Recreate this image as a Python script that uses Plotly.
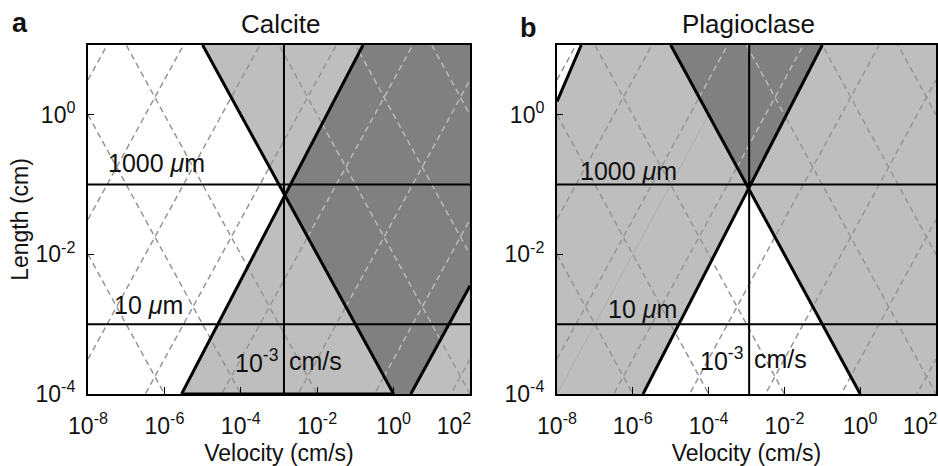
import plotly.graph_objects as go

# ---------------- data (log10 units) ----------------
X_RANGE = [-8, 2]          # log10 velocity (cm/s)
Y_RANGE = [-4, 1]          # log10 length (cm)
X_TICKS = [-8, -6, -4, -2, 0, 2]
Y_TICKS = [-4, -2, 0]

# thick boundary lines, endpoints as (log10 v, log10 L)
a_down = [(-5.0, 1.0), (0.0, -4.0)]
a_up = [(-5.55, -4.0), (-0.8, 1.0)]
a_edge = [(0.45, -4.0), (2.0, -2.45)]
b_down = [(-5.0, 1.0), (0.0, -4.0)]
b_up = [(-5.73, -4.0), (-1.0, 1.0)]
b_corner = [(-8.0, 0.19), (-7.36, 1.0)]

grain_sizes = [-1, -3]                 # log10 cm : 1000 um, 10 um
grain_labels = ["1000 <i>μ</i>m", "10 <i>μ</i>m"]
vel_line = {"a": -2.87, "b": -2.93}    # the "10^-3 cm/s" line

dash_sums = [-10, -8, -6, -2, 0, 2]                        # log L + log v
dash_diffs = [-5.5, -3.5, -1.5, 0.5, 2.5, 4.5, 6.5, 8.5]   # log L - log v
thin_diffs_b = [4.0]

LIGHT = "#bebebe"
DARK = "#808080"
DASH_GRAY = "#969696"
DASH_LIGHT = "#b9b9b9"
FONT = "Liberation Sans, Arial, sans-serif"


def intersect(l1, l2):
    (x1, y1), (x2, y2) = l1
    (x3, y3), (x4, y4) = l2
    d = (x1 - x2) * (y3 - y4) - (y1 - y2) * (x3 - x4)
    t = ((x1 - x3) * (y3 - y4) - (y1 - y3) * (x3 - x4)) / d
    return (x1 + t * (x2 - x1), y1 + t * (y2 - y1))


def clip(p0, p1, poly):
    cx = sum(p[0] for p in poly) / len(poly)
    cy = sum(p[1] for p in poly) / len(poly)
    t0, t1 = 0.0, 1.0
    dx, dy = p1[0] - p0[0], p1[1] - p0[1]
    for i in range(len(poly)):
        a = poly[i]
        b = poly[(i + 1) % len(poly)]
        n = (-(b[1] - a[1]), b[0] - a[0])
        if n[0] * (cx - a[0]) + n[1] * (cy - a[1]) < 0:
            n = (-n[0], -n[1])
        num = n[0] * (p0[0] - a[0]) + n[1] * (p0[1] - a[1])
        den = n[0] * dx + n[1] * dy
        if abs(den) < 1e-12:
            if num < 0:
                return None
            continue
        t = -num / den
        if den > 0:
            t0 = max(t0, t)
        else:
            t1 = min(t1, t)
    if t0 >= t1:
        return None
    return [(p0[0] + t0 * dx, p0[1] + t0 * dy), (p0[0] + t1 * dx, p0[1] + t1 * dy)]


def dashed_segments():
    segs = []
    for s in dash_sums:
        segs.append([(X_RANGE[0], s - X_RANGE[0]), (X_RANGE[1], s - X_RANGE[1])])
    for d in dash_diffs:
        segs.append([(X_RANGE[0], d + X_RANGE[0]), (X_RANGE[1], d + X_RANGE[1])])
    return segs


fig = go.Figure()


def add_poly(pts, color, xa, ya):
    xs = [10 ** p[0] for p in pts] + [10 ** pts[0][0]]
    ys = [10 ** p[1] for p in pts] + [10 ** pts[0][1]]
    fig.add_trace(go.Scatter(x=xs, y=ys, mode="lines", fill="toself", fillcolor=color,
                             line=dict(width=0, color=color), xaxis=xa, yaxis=ya,
                             hoverinfo="skip", showlegend=False))


def add_line(pts, xa, ya, color="black", width=2.5, dash="solid"):
    fig.add_trace(go.Scatter(x=[10 ** p[0] for p in pts], y=[10 ** p[1] for p in pts],
                             mode="lines", line=dict(color=color, width=width, dash=dash),
                             xaxis=xa, yaxis=ya, hoverinfo="skip", showlegend=False))


x0, x1 = X_RANGE
y0, y1 = Y_RANGE

# ---------------- panel a : Calcite ----------------
Ia = intersect(a_down, a_up)
light_a = [a_down[0], (x1, y1), (x1, y0), a_up[0], Ia]
dark_a = [a_up[1], (x1, y1), a_edge[1], a_edge[0], a_down[1], Ia]
add_poly(light_a, LIGHT, "x", "y")
for seg in dashed_segments():
    add_line(seg, "x", "y", DASH_GRAY, 1.5, "6px,4px")
add_poly(dark_a, DARK, "x", "y")
for seg in dashed_segments():
    c = clip(seg[0], seg[1], dark_a)
    if c:
        add_line(c, "x", "y", DASH_LIGHT, 1.5, "6px,4px")
for g in grain_sizes:
    add_line([(x0, g), (x1, g)], "x", "y", "black", 2)
add_line([(vel_line["a"], y1), (vel_line["a"], y0)], "x", "y", "black", 2)
add_line(a_down, "x", "y", "black", 3)
add_line(a_up, "x", "y", "black", 3)
add_line(a_edge, "x", "y", "black", 3)
add_line([a_up[0], a_down[1]], "x", "y", "black", 3)

# ---------------- panel b : Plagioclase ----------------
Ib = intersect(b_down, b_up)
add_poly([(x0, y0), (x1, y0), (x1, y1), (x0, y1)], LIGHT, "x2", "y2")
add_poly([(x0, y1), b_corner[1], b_corner[0]], "white", "x2", "y2")
add_poly([Ib, b_down[1], b_up[0]], "white", "x2", "y2")
for d in thin_diffs_b:
    add_line([(x0, d + x0), (x1, d + x1)], "x2", "y2", "#a8a8a8", 0.8)
for seg in dashed_segments():
    add_line(seg, "x2", "y2", DASH_GRAY, 1.5, "6px,4px")
dark_b = [Ib, b_down[0], b_up[1]]
add_poly(dark_b, DARK, "x2", "y2")
for seg in dashed_segments():
    c = clip(seg[0], seg[1], dark_b)
    if c:
        add_line(c, "x2", "y2", DASH_LIGHT, 1.5, "6px,4px")
for g in grain_sizes:
    add_line([(x0, g), (x1, g)], "x2", "y2", "black", 2)
add_line([(vel_line["b"], y1), (vel_line["b"], y0)], "x2", "y2", "black", 2)
add_line(b_down, "x2", "y2", "black", 3)
add_line(b_up, "x2", "y2", "black", 3)
add_line(b_corner, "x2", "y2", "black", 3)

# ---------------- axes ----------------
NB = "\u00a0"
xtext = [f"10<sup>{v}</sup>" for v in X_TICKS]
xtext[-1] = xtext[-1] + NB * 5   # last label sits left of the frame edge, as in the original
ytext = [f"10<sup>{v}</sup>" for v in Y_TICKS]
TICKFONT = dict(size=23, color="#111", family=FONT)
common_x = dict(type="log", range=X_RANGE, tickvals=[10 ** v for v in X_TICKS], ticktext=xtext,
                ticks="inside", ticklen=7, tickwidth=1, tickcolor="black",
                showline=True, linecolor="black", linewidth=2, mirror=True,
                showgrid=False, zeroline=False, tickfont=TICKFONT,
                ticklabelstandoff=10, automargin=False, ticklabeloverflow="allow",
                title=dict(text="Velocity (cm/s)", font=dict(size=23, color="#111", family=FONT),
                           standoff=19),
                fixedrange=True)
common_y = dict(type="log", range=Y_RANGE, tickvals=[10 ** v for v in Y_TICKS], ticktext=ytext,
                ticks="inside", ticklen=6, tickwidth=1, tickcolor="black",
                showline=True, linecolor="black", linewidth=2, mirror=True,
                showgrid=False, zeroline=False, tickfont=TICKFONT, automargin=False,
                ticklabelstandoff=6, domain=[0, 1], fixedrange=True)

W, H = 938, 466
ML, MR, MT, MB = 88, 2, 45, 72
PW = W - ML - MR
fig.update_layout(
    width=W, height=H, margin=dict(l=ML, r=MR, t=MT, b=MB, autoexpand=False),
    paper_bgcolor="white", plot_bgcolor="white",
    font=dict(family=FONT, color="#111"),
    xaxis=dict(common_x, domain=[0, (470 - ML) / PW], anchor="y"),
    xaxis2=dict(common_x, domain=[(557 - ML) / PW, 1], anchor="y2"),
    yaxis=dict(common_y, anchor="x",
               title=dict(text="Length (cm)", font=dict(size=23, color="#111", family=FONT),
                          standoff=0)),
    yaxis2=dict(common_y, anchor="x2"),
    showlegend=False,
)

ann = []
# panel titles & letters
ann.append(dict(text="Calcite", xref="x domain", yref="y domain", x=0.505, y=1.06,
                xanchor="center", showarrow=False, font=dict(size=26), yanchor="middle"))
ann.append(dict(text="Plagioclase", xref="x2 domain", yref="y2 domain", x=0.505, y=1.06,
                xanchor="center", showarrow=False, font=dict(size=26), yanchor="middle"))
ann.append(dict(text="<b>a</b>", xref="x domain", yref="y domain", x=-0.178, y=1.062,
                xanchor="center", showarrow=False, font=dict(size=27), yanchor="middle"))
ann.append(dict(text="<b>b</b>", xref="x2 domain", yref="y2 domain", x=-0.0765, y=1.048,
                xanchor="center", showarrow=False, font=dict(size=27), yanchor="middle"))
# grain size labels
label_pos = {"x": [(-7.53, -0.69), (-7.37, -2.73)], "x2": [(-7.45, -0.81), (-6.71, -2.78)]}
for xa, ya in (("x", "y"), ("x2", "y2")):
    for (lx, ly), txt in zip(label_pos[xa], grain_labels):
        ann.append(dict(text=txt, xref=xa, yref=ya, x=lx, y=ly, xanchor="left", yanchor="middle",
                        showarrow=False, font=dict(size=25)))
# velocity line labels
for xa, ya, key, ly in (("x", "y", "a", -3.53), ("x2", "y2", "b", -3.5)):
    ann.append(dict(text="10<sup>-3</sup>", xref=xa, yref=ya, x=vel_line[key], y=ly,
                    xanchor="right", yanchor="middle", xshift=-4, showarrow=False,
                    font=dict(size=25)))
    ann.append(dict(text="cm/s", xref=xa, yref=ya, x=vel_line[key], y=ly,
                    xanchor="left", yanchor="middle", xshift=3, showarrow=False,
                    font=dict(size=25)))
fig.update_layout(annotations=ann)

fig.write_html("out.html")
